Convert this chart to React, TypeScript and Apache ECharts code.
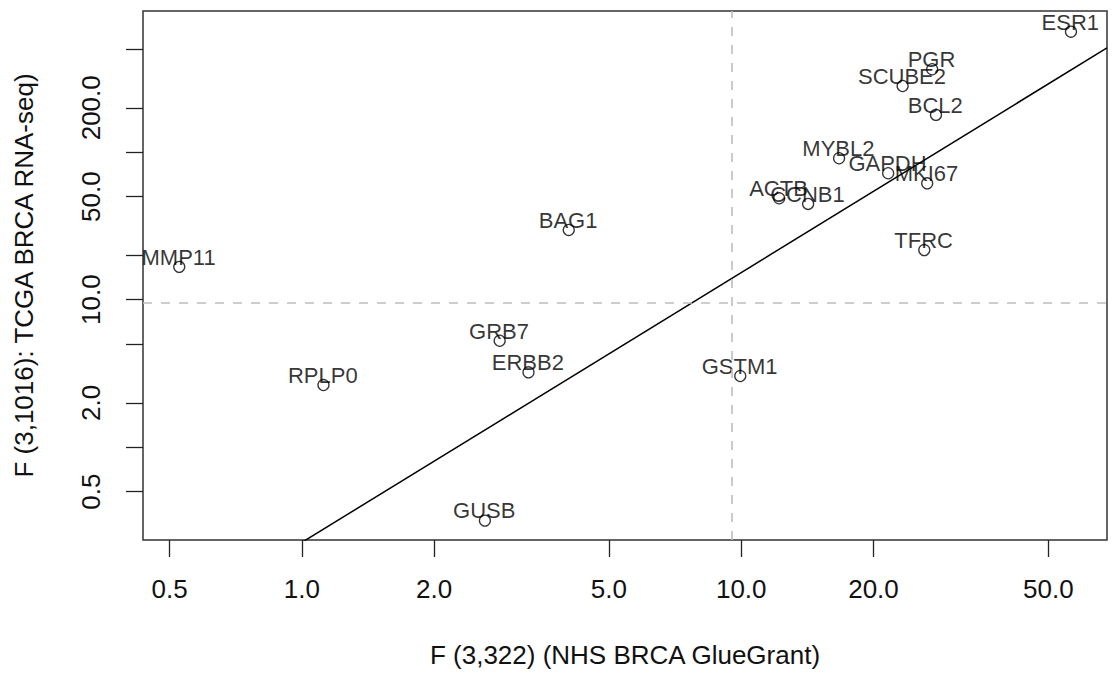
import React, { useEffect, useRef } from "react";
import * as echarts from "echarts";

// ---- data ----
const GENES = ["MMP11", "RPLP0", "GRB7", "ERBB2", "GUSB", "GSTM1", "BAG1", "ESR1", "PGR", "SCUBE2", "BCL2", "MYBL2", "GAPDH", "MKI67", "ACTB", "CCNB1", "TFRC"];
const F_NHS = [0.526, 1.12, 2.82, 3.28, 2.61, 9.95, 4.05, 56.3, 27.2, 23.3, 27.75, 16.7, 21.6, 26.5, 12.2, 14.2, 26.1];
const F_TCGA = [16.7, 2.64, 5.27, 3.22, 0.318, 3.04, 29.7, 656, 365, 281, 179, 91, 72, 61.5, 48.7, 44.6, 21.7];

const X_TICKS = [0.5, 1, 2, 5, 10, 20, 50];
const Y_TICKS = [0.5, 1, 2, 5, 10, 20, 50, 100, 200, 500];
const Y_LABELS = [0.5, 2, 10, 50, 200];

const REF_X = 9.5;
const REF_Y = 9.5;

// regression line in log10 space: log10(y) = a + b * log10(x)
const FIT_A = -0.6453;
const FIT_B = 1.8295;
const FIT_X = [0.9, 68];

const X_MIN = 0.435, X_MAX = 68;
const Y_MIN = 0.235, Y_MAX = 906;

const FONT = "Liberation Sans, Arial, Helvetica, sans-serif";

export default function App() {
  const ref = useRef<HTMLDivElement>(null);
  useEffect(() => {
    if (!ref.current) return;
    const chart = echarts.init(ref.current, null, { renderer: "svg" });
    const points = GENES.map((g, i) => ({ name: g, value: [F_NHS[i], F_TCGA[i]] }));
    const fitLine = FIT_X.map((x) => [x, Math.pow(10, FIT_A + FIT_B * Math.log10(x))]);
    const tickStyle = { show: true, inside: false, length: 17, lineStyle: { color: "#222", width: 1.3 } };
    chart.setOption({
      animation: false,
      backgroundColor: "#fff",
      grid: {
        left: 143, top: 11, right: 5, bottom: 134,
        show: true, borderColor: "#333", borderWidth: 1.5, backgroundColor: "transparent",
        containLabel: false, outerBoundsMode: "none",
      },
      xAxis: {
        type: "log", logBase: 10, min: X_MIN, max: X_MAX,
        name: "F (3,322) (NHS BRCA GlueGrant)",
        nameLocation: "middle", nameGap: 102,
        nameTextStyle: { fontFamily: FONT, fontSize: 26, color: "#111" },
        axisLine: { show: false },
        axisTick: { ...tickStyle, customValues: X_TICKS },
        axisLabel: {
          customValues: X_TICKS, margin: 36, hideOverlap: false,
          fontFamily: FONT, fontSize: 26, color: "#111",
          formatter: (v: number) => Number(v).toFixed(1),
        },
        splitLine: { show: false },
        minorTick: { show: false },
      },
      yAxis: {
        type: "log", logBase: 10, min: Y_MIN, max: Y_MAX,
        name: "F (3,1016): TCGA BRCA RNA-seq)",
        nameLocation: "middle", nameGap: 106, nameRotate: 90,
        nameTextStyle: { fontFamily: FONT, fontSize: 26, color: "#111" },
        axisLine: { show: false },
        axisTick: { ...tickStyle, customValues: Y_TICKS },
        axisLabel: {
          customValues: Y_LABELS, margin: 39, rotate: 90, hideOverlap: false,
          fontFamily: FONT, fontSize: 26, color: "#111",
          formatter: (v: number) => Number(v).toFixed(1),
        },
        splitLine: { show: false },
        minorTick: { show: false },
      },
      series: [
        {
          type: "line",
          data: fitLine,
          showSymbol: false,
          symbol: "none",
          clip: true,
          lineStyle: { color: "#000", width: 1.5 },
          silent: true,
          z: 2,
        },
        {
          type: "scatter",
          data: points,
          symbol: "circle",
          symbolSize: 11,
          clip: false,
          itemStyle: { color: "transparent", borderColor: "#000", borderWidth: 1.3 },
          label: {
            show: true,
            position: [5.5, -3.5],
            align: "center",
            verticalAlign: "middle",
            formatter: "{b}",
            fontFamily: FONT,
            fontSize: 22,
            color: "#000",
          },
          labelLayout: { hideOverlap: false },
          markLine: {
            silent: true,
            symbol: ["none", "none"],
            label: { show: false },
            lineStyle: { color: "#bdbdbd", width: 1.6, type: [9, 9] },
            data: [{ xAxis: REF_X }, { yAxis: REF_Y }],
          },
          z: 3,
        },
      ],
    });
    return () => chart.dispose();
  }, []);
  return (
    <div
      ref={ref}
      style={{ position: "absolute", left: 0, top: 0, width: 1112, height: 674, background: "#fff" }}
    />
  );
}
